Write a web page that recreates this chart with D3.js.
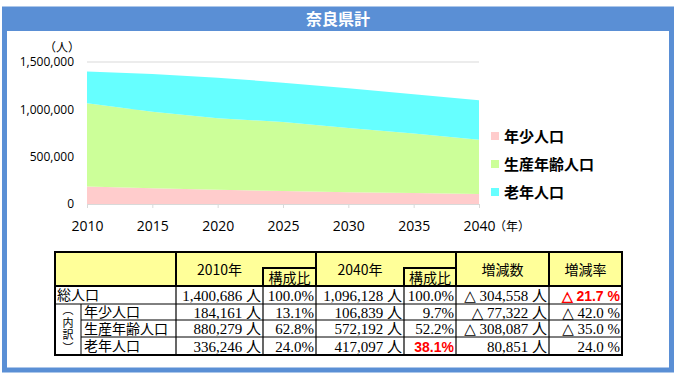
<!DOCTYPE html>
<html>
<head>
<meta charset="utf-8">
<script src="https://cdn.jsdelivr.net/npm/d3@7"></script>
<style>
  body { margin: 0; background: #fff; }
  svg { display: block; }
</style>
</head>
<body>
<svg width="676" height="375"></svg>
<script>
// chart data
let years = [2010, 2015, 2020, 2025, 2030, 2035, 2040];
let young = [184161, 166000, 150000, 137000, 125000, 115000, 106839];
let working = [880279, 809000, 756000, 729000, 678000, 630000, 572192];
let old = [336246, 398000, 428000, 416000, 419000, 414000, 417097];
let seriesNames = ["年少人口", "生産年齢人口", "老年人口"];
let yTicks = [0, 500000, 1000000, 1500000];

// table data
let rowLabels = ["総人口", "年少人口", "生産年齢人口", "老年人口"];
let pop2010 = [1400686, 184161, 880279, 336246];
let share2010 = [100.0, 13.1, 62.8, 24.0];
let pop2040 = [1096128, 106839, 572192, 417097];
let share2040 = [100.0, 9.7, 52.2, 38.1];
let diff = [-304558, -77322, -308087, 80851];
let rate = [-21.7, -42.0, -35.0, 24.0];
let headers = ["2010年", "2040年", "増減数", "増減率"];

let svg = d3.select("svg"),
  blue = "#5a8fd5",
  colors = ["#ffcccc", "#ccff99", "#66ffff"],
  sans = "'Noto Sans CJK JP', 'Noto Sans', sans-serif",
  serif = "'Liberation Serif', 'DejaVu Serif', 'Noto Sans CJK JP', serif";

// frame + title
svg.append("rect").attr("x", 4.5).attr("y", 9).attr("width", 667).attr("height", 361)
  .attr("fill", "none").attr("stroke", blue).attr("stroke-width", 5);
svg.append("rect").attr("x", 2).attr("y", 7).attr("width", 672).attr("height", 24).attr("fill", blue);
svg.append("text").attr("x", 338).attr("y", 25).attr("text-anchor", "middle")
  .attr("fill", "#fff").attr("font-family", sans).attr("font-weight", "bold").attr("font-size", 16)
  .text("奈良県計");

// area chart
let x = d3.scaleLinear().domain([2010, 2040]).range([87, 479]);
let y = d3.scaleLinear().domain([0, 1500000]).range([204, 62]);

let g = svg.append("g");

g.selectAll(".grid").data(yTicks).enter().append("line")
  .attr("x1", x(2010)).attr("x2", x(2040))
  .attr("y1", (d) => y(d)).attr("y2", (d) => y(d))
  .attr("stroke", "#d9d9d9").attr("stroke-width", 1);

let rows = years.map((yr, i) => {
  return { year: yr, a: young[i], b: working[i], c: old[i] };
});
let stack = d3.stack().keys(["a", "b", "c"]);
let area = d3.area()
  .x((d) => x(d.data.year))
  .y0((d) => y(d[0]))
  .y1((d) => y(d[1]));

g.selectAll(".layer").data(stack(rows)).enter().append("path")
  .attr("d", area)
  .attr("fill", (d, i) => colors[i]);

let xAxis = g.append("g").attr("transform", "translate(0," + y(0) + ")")
  .call(d3.axisBottom(x).tickValues(years).tickFormat(d3.format("d")).tickSize(4).tickPadding(13));
xAxis.select(".domain").attr("stroke", "#d9d9d9");
xAxis.selectAll(".tick line").attr("stroke", "#d9d9d9");
xAxis.selectAll("text").attr("font-family", "'Open Sans', sans-serif").attr("font-size", 14).attr("fill", "#000");

let yAxis = g.append("g").attr("transform", "translate(74,0)")
  .call(d3.axisLeft(y).tickValues(yTicks).tickFormat(d3.format(",")).tickSize(0).tickPadding(0));
yAxis.select(".domain").remove();
yAxis.selectAll("text").attr("font-family", "'Open Sans', sans-serif").attr("font-size", 12).attr("fill", "#000");

svg.append("text").attr("x", 62).attr("y", 52).attr("text-anchor", "middle")
  .attr("font-family", sans).attr("font-size", 12).text("（人）");
svg.append("text").attr("x", 494).attr("y", 231)
  .attr("font-family", sans).attr("font-size", 12).text("（年）");

// legend
let legend = svg.selectAll(".legend").data(seriesNames).enter().append("g")
  .attr("transform", (d, i) => "translate(491," + (136 + i * 28) + ")");
legend.append("rect").attr("x", 0).attr("y", -4).attr("width", 8).attr("height", 8)
  .attr("fill", (d, i) => colors[i]);
legend.append("text").attr("x", 13).attr("y", 5.5)
  .attr("font-family", sans).attr("font-weight", "bold").attr("font-size", 15).text((d) => d);

// table
let cx = [55, 81, 176, 263, 316, 404, 456, 549, 622];
let ry = [286, 304, 320, 337, 355];
let tableTop = 252;
let t = svg.append("g");
let fmt = d3.format(",");

t.append("rect").attr("x", cx[0]).attr("y", tableTop).attr("width", cx[8] - cx[0]).attr("height", ry[0] - tableTop)
  .attr("fill", "#ffff99");
t.append("rect").attr("x", cx[0]).attr("y", ry[0]).attr("width", cx[8] - cx[0]).attr("height", ry[4] - ry[0])
  .attr("fill", "#fff");

// thin body lines
for (let i = 1; i < 4; i++) {
  t.append("line").attr("x1", i === 1 ? cx[0] : cx[1]).attr("x2", cx[8])
    .attr("y1", ry[i]).attr("y2", ry[i]).attr("stroke", "#000").attr("stroke-width", 1);
}
t.append("line").attr("x1", cx[1]).attr("x2", cx[1]).attr("y1", ry[1]).attr("y2", ry[4])
  .attr("stroke", "#000").attr("stroke-width", 1);
[2, 3, 4, 5, 6, 7].forEach((k) => {
  t.append("line").attr("x1", cx[k]).attr("x2", cx[k]).attr("y1", ry[0]).attr("y2", ry[4])
    .attr("stroke", "#000").attr("stroke-width", 1.2);
});
// thick header lines
[2, 4, 6, 7].forEach((k) => {
  t.append("line").attr("x1", cx[k]).attr("x2", cx[k]).attr("y1", tableTop).attr("y2", ry[0])
    .attr("stroke", "#000").attr("stroke-width", 2);
});
t.append("line").attr("x1", cx[0]).attr("x2", cx[8]).attr("y1", ry[0]).attr("y2", ry[0])
  .attr("stroke", "#000").attr("stroke-width", 2);
t.append("rect").attr("x", cx[0]).attr("y", tableTop).attr("width", cx[8] - cx[0]).attr("height", ry[4] - tableTop)
  .attr("fill", "none").attr("stroke", "#000").attr("stroke-width", 2);

// 構成比 sub boxes
[3, 5].forEach((k) => {
  t.append("path")
    .attr("d", "M" + cx[k] + "," + ry[0] + "V" + (ry[0] - 18) + "H" + cx[k + 1])
    .attr("fill", "none").attr("stroke", "#000").attr("stroke-width", 2);
  t.append("text").attr("x", (cx[k] + cx[k + 1]) / 2).attr("y", ry[0] - 3.5).attr("text-anchor", "middle")
    .attr("font-family", sans).attr("font-size", 14).text("構成比");
});

let hx = [(cx[2] + cx[3]) / 2, (cx[4] + cx[5]) / 2, (cx[6] + cx[7]) / 2, (cx[7] + cx[8]) / 2];
t.selectAll(".hdr").data(headers).enter().append("text")
  .attr("x", (d, i) => hx[i]).attr("y", 275).attr("text-anchor", "middle")
  .attr("font-family", sans).attr("font-size", 14).text((d) => d);

// row labels
rowLabels.forEach((lab, i) => {
  t.append("text").attr("x", i === 0 ? cx[0] + 2 : cx[1] + 3).attr("y", (ry[i] + ry[i + 1]) / 2 + 5)
    .attr("font-family", sans).attr("font-size", 14).text(lab);
});
// vertical (内訳)
t.append("text").attr("x", (cx[0] + cx[1]) / 2).attr("y", (ry[1] + ry[4]) / 2)
  .attr("text-anchor", "middle")
  .style("writing-mode", "vertical-rl")
  .attr("letter-spacing", 1.5)
  .attr("font-family", sans).attr("font-size", 11).text("（内訳）");

function tri(v) {
  return v < 0 ? "△ " + fmt(-v) : fmt(v);
}
function cell(k, i, str, red) {
  t.append("text").attr("x", cx[k + 1] - 2).attr("y", (ry[i] + ry[i + 1]) / 2 + 5.5)
    .attr("text-anchor", "end")
    .attr("font-family", red ? "'Liberation Sans', Arial, sans-serif" : serif)
    .attr("font-weight", red ? "bold" : "normal")
    .attr("fill", red ? "#ff0000" : "#000")
    .attr("font-size", red ? 14 : 15)
    .text(str);
}
rowLabels.forEach((lab, i) => {
  cell(2, i, fmt(pop2010[i]) + " 人", false);
  cell(3, i, share2010[i].toFixed(1) + "%", false);
  cell(4, i, fmt(pop2040[i]) + " 人", false);
  cell(5, i, share2040[i].toFixed(1) + "%", i === 3);
  cell(6, i, tri(diff[i]) + " 人", false);
  cell(7, i, (rate[i] < 0 ? "△ " + (-rate[i]).toFixed(1) : rate[i].toFixed(1)) + " %", i === 0);
});
</script>
</body>
</html>
